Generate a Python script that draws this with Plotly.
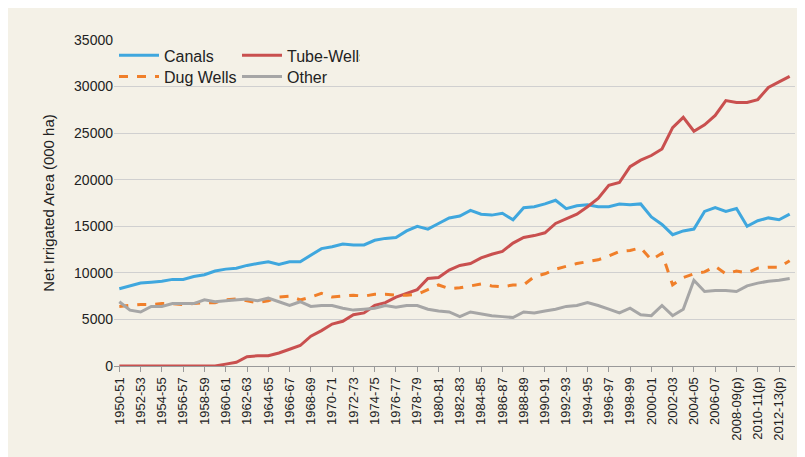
import plotly.graph_objects as go

years = [f"{y}-{str(y+1)[-2:]}" for y in range(1950, 2014)]
labels = [s + ("(p)" if int(s[:4]) >= 2008 else "") for s in years]

canals = [8300,8600,8900,9000,9100,9300,9300,9600,9800,10200,10400,10500,10800,11000,11200,10900,11200,11200,11900,12600,
          12800,13100,13000,13000,13500,13700,13800,14500,15000,14700,15300,15900,16100,16700,16300,16200,16400,15700,17000,17100,
          17400,17800,16900,17200,17300,17100,17100,17400,17300,17400,16000,15200,14100,14500,14700,16600,17000,16600,16900,15000,
          15600,15900,15700,16300]
tube = [0,0,0,0,0,0,0,0,0,0,200,400,1000,1100,1100,1400,1800,2200,3200,3800,
        4500,4800,5500,5700,6500,6800,7400,7800,8200,9400,9500,10300,10800,11000,11600,12000,12300,13200,13800,14000,
        14300,15300,15800,16300,17100,18000,19400,19700,21400,22100,22600,23300,25600,26700,25200,25900,26900,28500,28300,28300,
        28600,29900,30500,31100]
dug = [6400,6500,6600,6600,6700,6700,6600,6700,6800,6800,7100,7200,7000,6800,7000,7400,7500,7100,7400,7800,
       7400,7500,7600,7500,7700,7700,7600,7600,7700,8200,8700,8300,8400,8600,8800,8600,8500,8700,8700,9600,
       9900,10400,10700,11000,11200,11400,11800,12300,12400,12700,11400,12100,8700,9500,9900,10100,10700,9900,10200,10000,
       10500,10600,10600,11300]
other = [6900,6000,5800,6400,6400,6700,6700,6700,7100,6900,7000,7100,7200,7000,7300,6900,6500,6900,6400,6500,
         6500,6200,6000,6100,6200,6500,6300,6500,6500,6100,5900,5800,5300,5800,5600,5400,5300,5200,5800,5700,
         5900,6100,6400,6500,6800,6500,6100,5700,6200,5500,5400,6500,5400,6100,9200,8000,8100,8100,8000,8600,
         8900,9100,9200,9400]

fig = go.Figure()
fig.add_trace(go.Scatter(x=labels, y=canals, name="Canals", mode="lines", line=dict(color="#3fa7de", width=3), legend="legend"))
fig.add_trace(go.Scatter(x=labels, y=tube, name="Tube-Wells", mode="lines", line=dict(color="#c9504f", width=3), legend="legend"))
fig.add_trace(go.Scatter(x=labels, y=dug, name="Dug Wells", mode="lines", line=dict(color="#f07f2a", width=3, dash="dash"), legend="legend2"))
fig.add_trace(go.Scatter(x=labels, y=other, name="Other", mode="lines", line=dict(color="#a6a6a6", width=3), legend="legend2"))

legcommon = dict(orientation="h", bgcolor="rgba(0,0,0,0)", font=dict(size=16, color="#222"),
                 entrywidth=68, itemwidth=40, xanchor="left", yanchor="top", tracegroupgap=0)
fig.update_layout(
    width=805, height=457,
    paper_bgcolor="#f4f1e7", plot_bgcolor="#f4f1e7",
    margin=dict(l=106, r=18, t=32, b=99, autoexpand=False),
    font=dict(family="Liberation Sans, Arial", size=14, color="#222"),
    legend=dict(x=0.0, y=1.005, **legcommon),
    legend2=dict(x=0.0, y=0.94, **legcommon),
    xaxis=dict(type="category", tickmode="array", tickvals=labels[::2], ticktext=labels[::2],
               tickangle=-90, ticks="outside", ticklen=5, tickcolor="#999", showline=True, linecolor="#999",
               showgrid=False, range=[-0.5, len(labels)-0.5], tickfont=dict(size=13)),
    yaxis=dict(range=[0, 35000], dtick=5000, tickformat="d", showgrid=True, gridcolor="#d0d0d0",
               title=dict(text="Net Irrigated Area (000 ha)", font=dict(size=15)), zeroline=False,
               showline=False),
)
fig.write_html("out.html")
